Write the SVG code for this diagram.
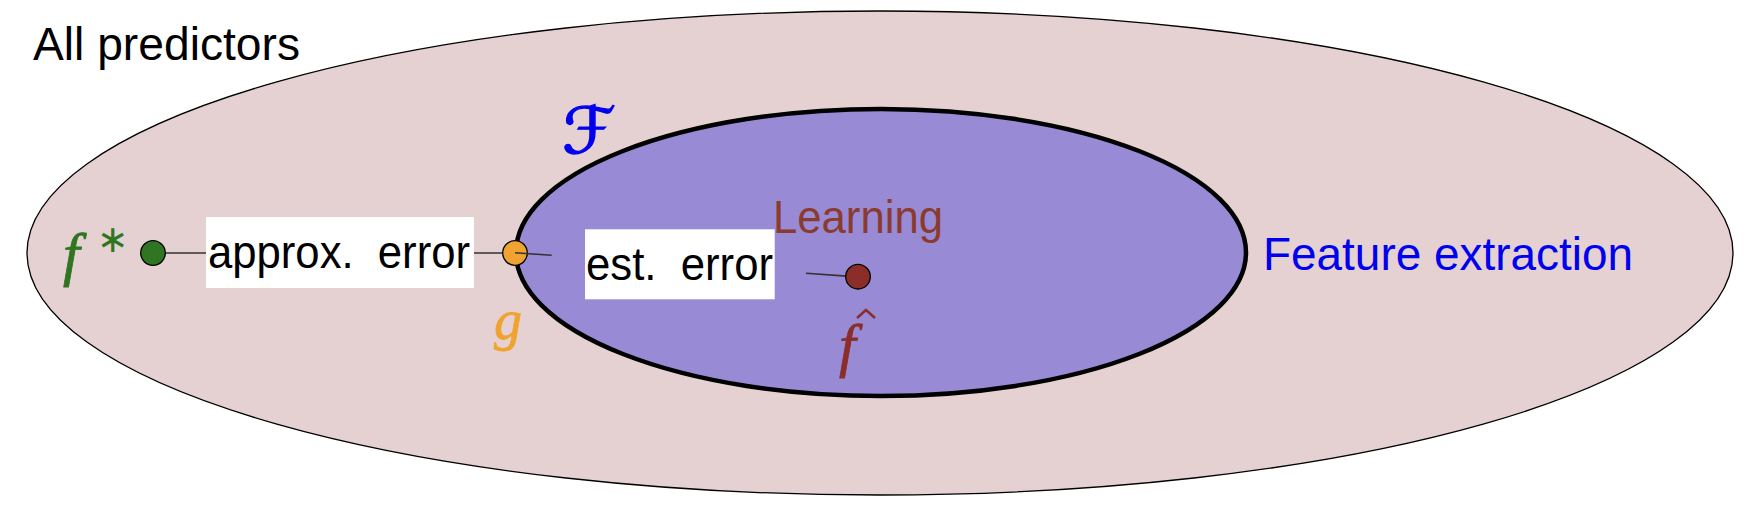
<svg xmlns="http://www.w3.org/2000/svg" width="1764" height="514" viewBox="0 0 1764 514">
<style>
.sans{font-family:"Liberation Sans",Arial,sans-serif;font-size:46px}
.math{font-family:"Liberation Serif","Times New Roman",serif;font-style:italic}
.dot{stroke:#000;stroke-width:1.3}
.conn{stroke:#333;stroke-width:1.6;fill:none}
.lbl{fill:#fff}
</style>
<rect width="1764" height="514" fill="#fff"/>
<g id="all-predictors">
<ellipse cx="880" cy="253" rx="853" ry="242" fill="#E5D1D1" stroke="#000" stroke-width="1.3"/>
<text class="sans" x="33" y="60" textLength="267" lengthAdjust="spacingAndGlyphs">All predictors</text>
</g>
<g id="F-class">
<ellipse cx="881" cy="252.5" rx="365" ry="143.5" fill="#988AD5" stroke="#000" stroke-width="4.5"/>
<text x="562" y="153" fill="#0000F0" stroke="#0000F0" stroke-width="1.2" font-family="DejaVu Sans, sans-serif" font-style="italic" font-size="64" textLength="54" lengthAdjust="spacingAndGlyphs">ℱ</text>
</g>
<g id="feature-extraction">
<text class="sans" x="1263" y="270" fill="#0000F0" textLength="370" lengthAdjust="spacingAndGlyphs">Feature extraction</text>
</g>
<g id="learning">
<text class="sans" x="773" y="233" fill="#8B3A2E" textLength="170" lengthAdjust="spacingAndGlyphs">Learning</text>
</g>
<g id="connectors">
<line class="conn" x1="153" y1="253" x2="515" y2="253"/>
</g>
<g id="f-star">
<circle class="dot" cx="153" cy="253" r="12.3" fill="#2F7522"/>
<text class="math" x="63" y="274" font-size="60" fill="#2F7522" stroke="#2F7522" stroke-width="0.8">f</text>
<text x="97" y="252" font-family="DejaVu Sans, sans-serif" font-size="38" fill="#2F7522">∗</text>
</g>
<g id="approx-error">
<rect class="lbl" x="206" y="217" width="268" height="71"/>
<text class="sans" x="208" y="268" textLength="262" lengthAdjust="spacingAndGlyphs">approx.&#160; error</text>
</g>
<g id="g">
<circle class="dot" cx="515" cy="253" r="12.3" fill="#F0A330"/>
<text class="math" x="494" y="339" font-size="56" fill="#F0A330" stroke="#F0A330" stroke-width="0.8">g</text>
</g>
<g id="connectors2">
<line class="conn" x1="515" y1="252.7" x2="551.7" y2="255.3"/>
<line class="conn" x1="806" y1="273.3" x2="850" y2="276.4"/>
</g>
<g id="est-error">
<rect class="lbl" x="585" y="229.3" width="189.7" height="70"/>
<text class="sans" x="586" y="280" textLength="187" lengthAdjust="spacingAndGlyphs">est.&#160; error</text>
</g>
<g id="f-hat">
<circle class="dot" cx="858" cy="276.7" r="12.3" fill="#8B2E2A"/>
<text class="math" x="839" y="365" font-size="60" fill="#8B2E2A" stroke="#8B2E2A" stroke-width="0.8">f</text>
<path d="M857 318 L866 310 L875 318" fill="none" stroke="#8B2E2A" stroke-width="2.5"/>
</g>
</svg>
